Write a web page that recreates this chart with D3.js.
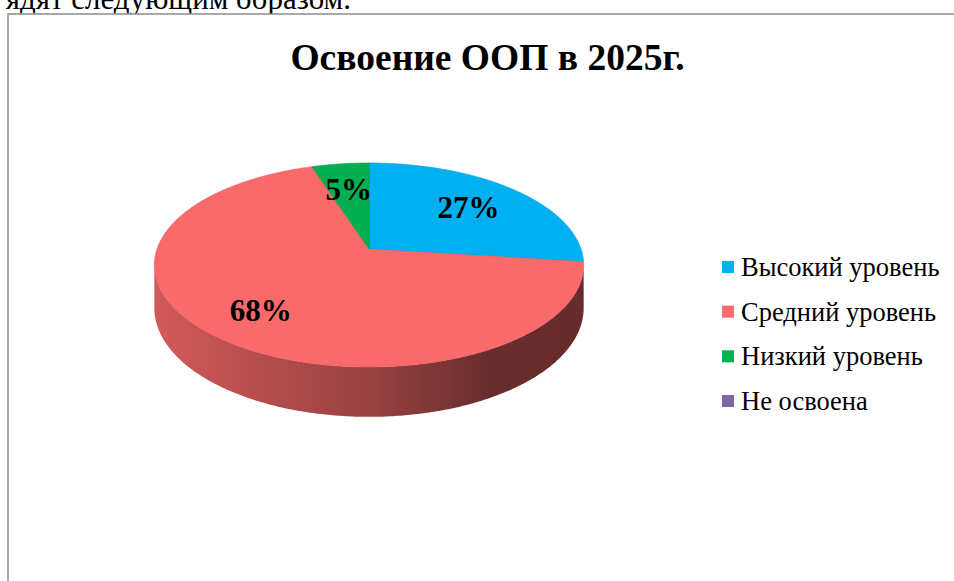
<!DOCTYPE html>
<html>
<head>
<meta charset="utf-8">
<script src="https://cdn.jsdelivr.net/npm/d3@7"></script>
<style>
  body { margin: 0; background: #fff; }
  svg { display: block; }
</style>
</head>
<body>
<svg class="piechart" width="954" height="581"></svg>
<script>
// chart data
let categories = ["Высокий уровень", "Средний уровень", "Низкий уровень", "Не освоена"];
let values = [27, 68, 5, 0];
let colors = ["#00B0F0", "#FA6A6A", "#00B050", "#8064A2"];
let title = "Освоение ООП в 2025г.";
let pageText = "ядят следующим образом.";

let serif = "'Liberation Serif', 'Times New Roman', serif";

let svg = d3.select(".piechart");

// text of the page above the chart box, cut by the window
svg.append("text")
  .attr("x", 351)
  .attr("y", 9)
  .attr("text-anchor", "end")
  .style("font-family", serif)
  .style("font-size", "31px")
  .text(pageText);

// chart frame
svg.append("rect")
  .attr("x", 8)
  .attr("y", 14)
  .attr("width", 1000)
  .attr("height", 700)
  .attr("fill", "#fff")
  .attr("stroke", "#8c8c8c")
  .attr("stroke-width", 1.5);

svg.append("text")
  .attr("x", 487.5)
  .attr("y", 70)
  .attr("text-anchor", "middle")
  .style("font-family", serif)
  .style("font-size", "37.5px")
  .style("font-weight", "bold")
  .text(title);

/*
 * 3d pie: the disk is seen in perspective, so a point at depth z
 * is scaled by 1 / (1 - k*z). cx, cy is where the slices meet.
 */
let pie3d = { cx: 369, cy: 249, R: 212, b: 99.5, k: 0.157, h: 42, labelR: [0.67, 0.73, 0.67, 0.67] };

function proj(a, r, dy) {
  let X = r * Math.sin(a);
  let Z = -r * Math.cos(a);
  let w = 1 - pie3d.k * Z;
  return [pie3d.cx + pie3d.R * X / w, pie3d.cy + (pie3d.b * Z + dy) / w];
}

function arcPoints(a0, a1, dy) {
  let n = Math.max(2, Math.ceil(Math.abs(a1 - a0) / 0.01));
  return d3.range(n + 1).map(i => proj(a0 + (a1 - a0) * i / n, 1, dy));
}

let line = d3.line();

let arcs = d3.pie().sort(null).value(d => d)(values);

let plot = svg.append("g").attr("id", "plot");

// outer wall, only the front part is seen
let wallFrom = Math.acos(-pie3d.k);
let wallTo = 2 * Math.PI - wallFrom;

let defs = svg.append("defs");

arcs.forEach((d, i) => {
  let s = Math.max(d.startAngle, wallFrom);
  let e = Math.min(d.endAngle, wallTo);
  if (e <= s) return;

  let base = d3.rgb(colors[i]);
  let grad = defs.append("linearGradient")
    .attr("id", "wall" + i)
    .attr("gradientUnits", "userSpaceOnUse")
    .attr("x1", pie3d.cx - pie3d.R).attr("x2", pie3d.cx + pie3d.R)
    .attr("y1", 0).attr("y2", 0);
  [[0, 0.84], [0.5, 0.61], [0.78, 0.42], [1, 0.41]].forEach(st => {
    grad.append("stop")
      .attr("offset", st[0])
      .attr("stop-color", d3.rgb(base.r * st[1], base.g * st[1], base.b * st[1]));
  });

  let pts = arcPoints(s, e, 0).concat(arcPoints(e, s, pie3d.h));
  plot.append("path")
    .attr("d", line(pts) + "Z")
    .attr("fill", "url(#wall" + i + ")");
});

// top faces
arcs.forEach((d, i) => {
  if (d.endAngle - d.startAngle <= 0) return;
  let pts = [proj(0, 0, 0)].concat(arcPoints(d.startAngle, d.endAngle, 0));
  plot.append("path")
    .attr("d", line(pts) + "Z")
    .attr("fill", colors[i])
    .attr("stroke", d3.rgb(colors[i]).darker(0.3))
    .attr("stroke-width", 0.6);
});

// data labels
arcs.forEach((d, i) => {
  if (d.value <= 0) return;
  let p = proj((d.startAngle + d.endAngle) / 2, pie3d.labelR[i], 0);
  plot.append("text")
    .attr("x", p[0])
    .attr("y", p[1])
    .attr("dy", "0.34em")
    .attr("text-anchor", "middle")
    .style("font-family", serif)
    .style("font-size", "31px")
    .style("font-weight", "bold")
    .text(d.value + "%");
});

// legend
let legend = svg.append("g").attr("id", "legend");
let rowY = d3.scalePoint().domain(categories).range([276, 410]);

categories.forEach((c, i) => {
  legend.append("rect")
    .attr("x", 722)
    .attr("y", rowY(c) - 15)
    .attr("width", 12)
    .attr("height", 12)
    .attr("fill", colors[i]);
  legend.append("text")
    .attr("x", 741)
    .attr("y", rowY(c))
    .style("font-family", serif)
    .style("font-size", "26.5px")
    .text(c);
});
</script>
</body>
</html>
